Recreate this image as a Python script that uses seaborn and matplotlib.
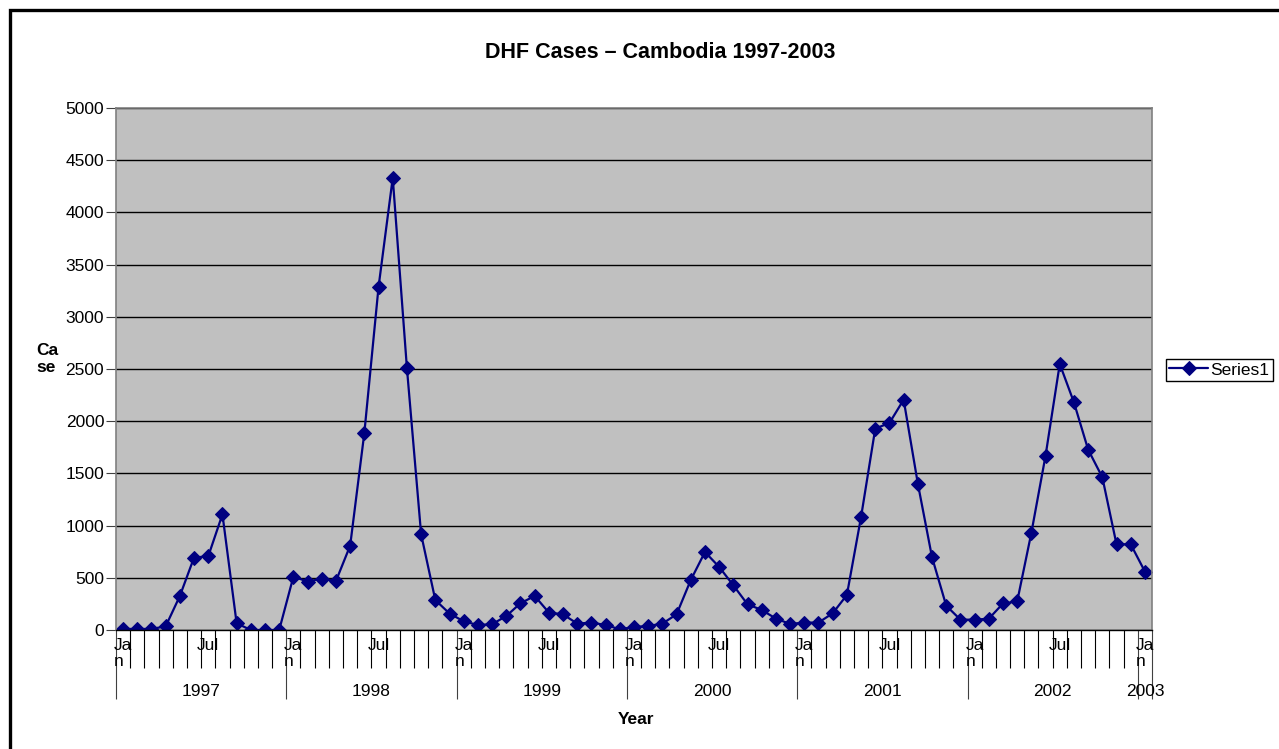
"""DHF cases in Cambodia, monthly, Jan 1997 - Jan 2003 (Excel-style line chart)."""

import matplotlib
matplotlib.use("Agg")
import matplotlib.pyplot as plt
import matplotlib.patches as mpatches
from matplotlib.ticker import FixedLocator, NullFormatter
import numpy as np
import pandas as pd
import seaborn as sns

# --- data -------------------------------------------------------------------
years = ["1997", "1998", "1999", "2000", "2001", "2002", "2003"]
month_names = ["Jan", "Feb", "Mar", "Apr", "May", "Jun",
               "Jul", "Aug", "Sep", "Oct", "Nov", "Dec"]

cases_1997 = [10, 10, 10, 35, 326, 694, 706, 1108, 64, 0, 0, 0]
cases_1998 = [511, 464, 492, 470, 808, 1889, 3286, 4331, 2507, 917, 287, 158]
cases_1999 = [83, 48, 55, 134, 256, 326, 167, 150, 61, 71, 48, 7]
cases_2000 = [29, 38, 61, 150, 479, 747, 604, 428, 246, 192, 109, 58]
cases_2001 = [71, 71, 160, 335, 1083, 1929, 1983, 2206, 1402, 697, 233, 99]
cases_2002 = [99, 108, 254, 273, 931, 1670, 2548, 2180, 1728, 1463, 821, 821]
cases_2003 = [560]

cases = cases_1997 + cases_1998 + cases_1999 + cases_2000 + cases_2001 + cases_2002 + cases_2003
n = len(cases)
df = pd.DataFrame({"idx": np.arange(n), "cases": cases})

# --- style ------------------------------------------------------------------
sns.set_theme(style="white")
plt.rcParams["font.family"] = ["Liberation Sans", "DejaVu Sans"]
plt.rcParams["text.color"] = "black"
plt.rcParams["axes.labelcolor"] = "black"

FS = 12.5
NAVY = "#000080"

fig = plt.figure(figsize=(12.79, 7.49), dpi=100)
ax = fig.add_axes([116 / 1279, 1 - 630 / 749, 1036 / 1279, 522 / 749])
ax.set_facecolor("#C0C0C0")

sns.lineplot(data=df, x="idx", y="cases", ax=ax, color=NAVY, linewidth=1.6,
             marker="D", markersize=7, markeredgecolor=NAVY,
             markerfacecolor=NAVY, label="Series1")

ax.set_xlim(-0.5, n - 0.5)
ax.set_ylim(0, 5000)
ax.set_yticks(np.arange(0, 5001, 500))
ax.yaxis.grid(True, color="black", linewidth=1.0)
ax.set_axisbelow(True)
ax.tick_params(axis="y", direction="out", length=7, width=0.8, color="#404040",
               pad=1.5, labelsize=FS, labelcolor="black", left=True)

for side in ("top", "right", "left"):
    ax.spines[side].set_color("#808080")
    ax.spines[side].set_linewidth(1.2)
ax.spines["bottom"].set_color("black")
ax.spines["bottom"].set_linewidth(1.0)

# month boundary ticks (minor) and year separators (major)
year_bounds = [-0.5 + 12 * k for k in range(7)] + [n - 0.5]
month_bounds = [b - 0.5 for b in range(n + 1)]
ax.xaxis.set_major_locator(FixedLocator(year_bounds))
ax.xaxis.set_minor_locator(FixedLocator(month_bounds))
ax.xaxis.set_major_formatter(NullFormatter())
ax.tick_params(axis="x", which="major", direction="out", length=50, width=0.8,
               color="#404040", bottom=True)
ax.tick_params(axis="x", which="minor", direction="out", length=27, width=0.8,
               color="black", bottom=True)
ax.set_xlabel("")
ax.set_ylabel("")

# month labels (Jan / Jul)
for i in range(n):
    m = month_names[i % 12]
    if m == "Jan":
        txt = "Ja\nn"
    elif m == "Jul":
        txt = "Jul"
    else:
        continue
    ax.annotate(txt, xy=(i, 0), xycoords=("data", "axes fraction"),
                xytext=(0, -5.5), textcoords="offset points",
                ha="center", va="top", multialignment="left",
                fontsize=FS, linespacing=1.15, color="black")

# year labels
for k, y in enumerate(years):
    start = 12 * k
    end = min(start + 11, n - 1)
    center = (start + end) / 2
    ax.annotate(y, xy=(center, 0), xycoords=("data", "axes fraction"),
                xytext=(0, -44.5), textcoords="offset points",
                ha="center", va="center", fontsize=FS, color="black")

# titles
fig.text(660 / 1279, 1 - 52 / 749, "DHF Cases \u2013 Cambodia 1997-2003",
         ha="center", va="center", fontsize=15.5, fontweight="bold", color="black")
fig.text(636 / 1279, 1 - 720 / 749, "Year", ha="center", va="center",
         fontsize=FS, fontweight="bold", color="black")
fig.text(47 / 1279, 1 - 359 / 749, "Ca\nse", ha="center", va="center",
         fontsize=FS, fontweight="bold", multialignment="left", linespacing=1.2,
         color="black")

# legend
leg = ax.legend(loc="center left", bbox_to_anchor=(1166 / 1279, 1 - 370 / 749),
                bbox_transform=fig.transFigure, frameon=True, fancybox=False,
                edgecolor="black", framealpha=1, fontsize=FS, borderpad=0.2,
                handlelength=2.2, handletextpad=0.15, borderaxespad=0)
leg.get_frame().set_linewidth(1.0)
for t in leg.get_texts():
    t.set_color("black")

# outer chart border (right/bottom edges fall outside the image)
fig.patches.append(mpatches.Rectangle((10 / 1279, -0.1), 1.2, 1.1 - 10 / 749,
                                      transform=fig.transFigure, fill=False,
                                      edgecolor="black", linewidth=2.4,
                                      clip_on=False))

fig.savefig("out.png", dpi=100, facecolor="white")
